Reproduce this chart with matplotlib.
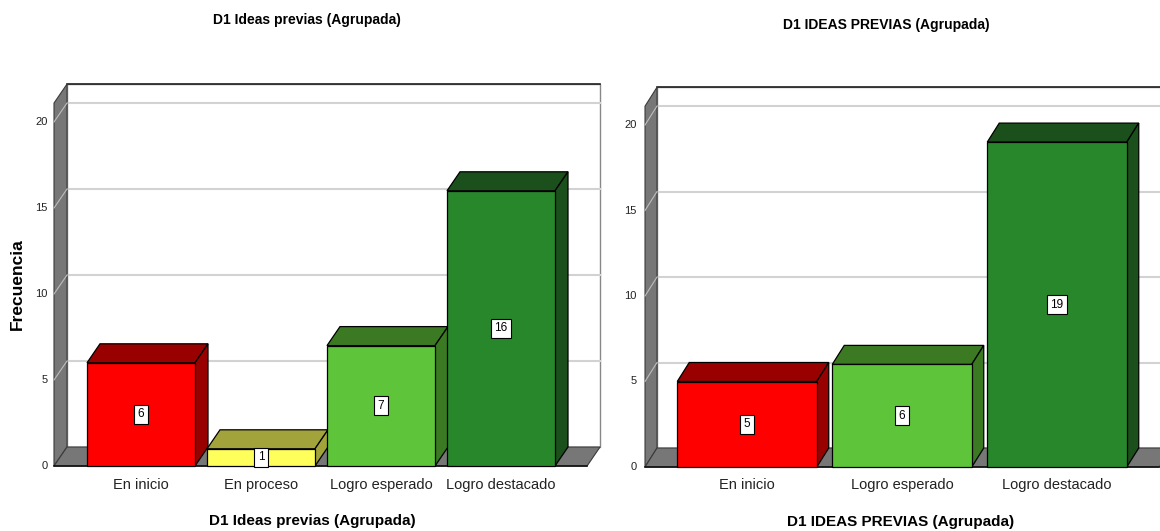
import matplotlib
matplotlib.use("Agg")
import matplotlib.pyplot as plt
from matplotlib.patches import Polygon, Rectangle

# frequencies per category (grouped D1 scores)
left_cats = ["En inicio", "En proceso", "Logro esperado", "Logro destacado"]
left_counts = [6, 1, 7, 16]
left_title = "D1 Ideas previas (Agrupada)"

right_cats = ["En inicio", "Logro esperado", "Logro destacado"]
right_counts = [5, 6, 19]
right_title = "D1 IDEAS PREVIAS (Agrupada)"

y_ticks = [0, 5, 10, 15, 20]

# front face / top+side face colours
colors = {
    "En inicio": ("#ff0000", "#990000"),
    "En proceso": ("#ffff5c", "#a3a33c"),
    "Logro esperado": ("#5ec43a", "#3b7a23"),
    "Logro destacado": ("#29872b", "#1b4f1b"),
}

W, H = 1160, 531
SANS = ["Liberation Sans", "DejaVu Sans"]

fig = plt.figure(figsize=(W / 100, H / 100), dpi=100)


def make_axes(x0px, xstep, y0px, ystep, xlim, ylim):
    # place an axes so that data (0,0) lands on pixel (x0px, y0px)
    left = x0px + xstep * xlim[0]
    right = x0px + xstep * xlim[1]
    bot = y0px - ystep * ylim[0]
    top = y0px - ystep * ylim[1]
    ax = fig.add_axes([left / W, (H - bot) / H, (right - left) / W, (bot - top) / H])
    ax.set_xlim(*xlim)
    ax.set_ylim(*ylim)
    ax.axis("off")
    return ax


def draw_chart(ax, cats, counts, xl, xr, dx, dy, top=21.1, width=0.9):
    wall = "#777777"
    edge = "#3a3a3a"
    # back wall
    ax.add_patch(Rectangle((xl + dx, dy), xr - xl, top, facecolor="white",
                           edgecolor="#888888", lw=1, zorder=1))
    ax.plot([xl + dx, xr + dx], [top + dy, top + dy], color="#222222", lw=1.2, zorder=2)
    for t in y_ticks[1:]:
        ax.plot([xl + dx, xr + dx], [t + dy, t + dy], color="#d2d2d2", lw=1.5, zorder=2)
    # left wall
    ax.add_patch(Polygon([(xl, 0), (xl + dx, dy), (xl + dx, top + dy), (xl, top)],
                         closed=True, facecolor=wall, edgecolor=edge, lw=0.8, zorder=3))
    for t in y_ticks[1:]:
        ax.plot([xl, xl + dx], [t, t + dy], color="#bdbdbd", lw=0.8, zorder=4)
    # floor
    ax.add_patch(Polygon([(xl, 0), (xr, 0), (xr + dx, dy), (xl + dx, dy)],
                         closed=True, facecolor=wall, edgecolor=edge, lw=0.8, zorder=3))
    ax.plot([xl, xr], [0, 0], color="#111111", lw=1.2, zorder=4)

    for i, (cat, v) in enumerate(zip(cats, counts)):
        front, dark = colors[cat]
        x0, x1 = i - width / 2, i + width / 2
        ax.add_patch(Polygon([(x0, v), (x1, v), (x1 + dx, v + dy), (x0 + dx, v + dy)],
                             closed=True, facecolor=dark, edgecolor="black", lw=0.9, zorder=5))
        ax.add_patch(Polygon([(x1, 0), (x1 + dx, dy), (x1 + dx, v + dy), (x1, v)],
                             closed=True, facecolor=dark, edgecolor="black", lw=0.9, zorder=5))
        ax.add_patch(Rectangle((x0, 0), width, v, facecolor=front,
                               edgecolor="black", lw=0.9, zorder=6))
        ax.text(i, v / 2, str(v), ha="center", va="center", fontsize=8.5,
                family=SANS, zorder=7,
                bbox=dict(boxstyle="square,pad=0.3", facecolor="white",
                          edgecolor="black", lw=0.8))
        ax.text(i, -1.08, cat, ha="center", va="center", fontsize=10.5,
                family=SANS, color="#222222")

    for t in y_ticks:
        ax.text(xl - 0.055, t, str(t), ha="right", va="center", fontsize=8,
                family=SANS, color="#222222")


# left chart: category step 120 px, 17.2 px per count
ax1 = make_axes(141, 120, 466, 17.2, (-1.0, 4.0), (-1.8, 24))
draw_chart(ax1, left_cats, left_counts, -0.725, 3.717, 13 / 120, 19 / 17.2)

# right chart: category step 155 px, 17.1 px per count
ax2 = make_axes(747, 155, 467, 17.1, (-0.85, 2.7), (-1.8, 24))
draw_chart(ax2, right_cats, right_counts, -0.658, 2.66, 12 / 155, 19 / 17.1)

# titles and axis labels
fig.text(307 / W, 1 - 20 / H, left_title, ha="center", va="center",
         fontsize=10, family=SANS, fontweight="bold")
fig.text(886 / W, 1 - 25 / H, right_title, ha="center", va="center",
         fontsize=10, family=SANS, fontweight="bold")
fig.text(312 / W, 1 - 521 / H, left_title, ha="center", va="center",
         fontsize=11, family=SANS, fontweight="bold")
fig.text(901 / W, 1 - 522 / H, right_title, ha="center", va="center",
         fontsize=11, family=SANS, fontweight="bold")
fig.text(17 / W, 1 - 284 / H, "Frecuencia", ha="center", va="center",
         rotation=90, fontsize=12.5, family=SANS, fontweight="bold")

fig.savefig("out.png", dpi=100)
